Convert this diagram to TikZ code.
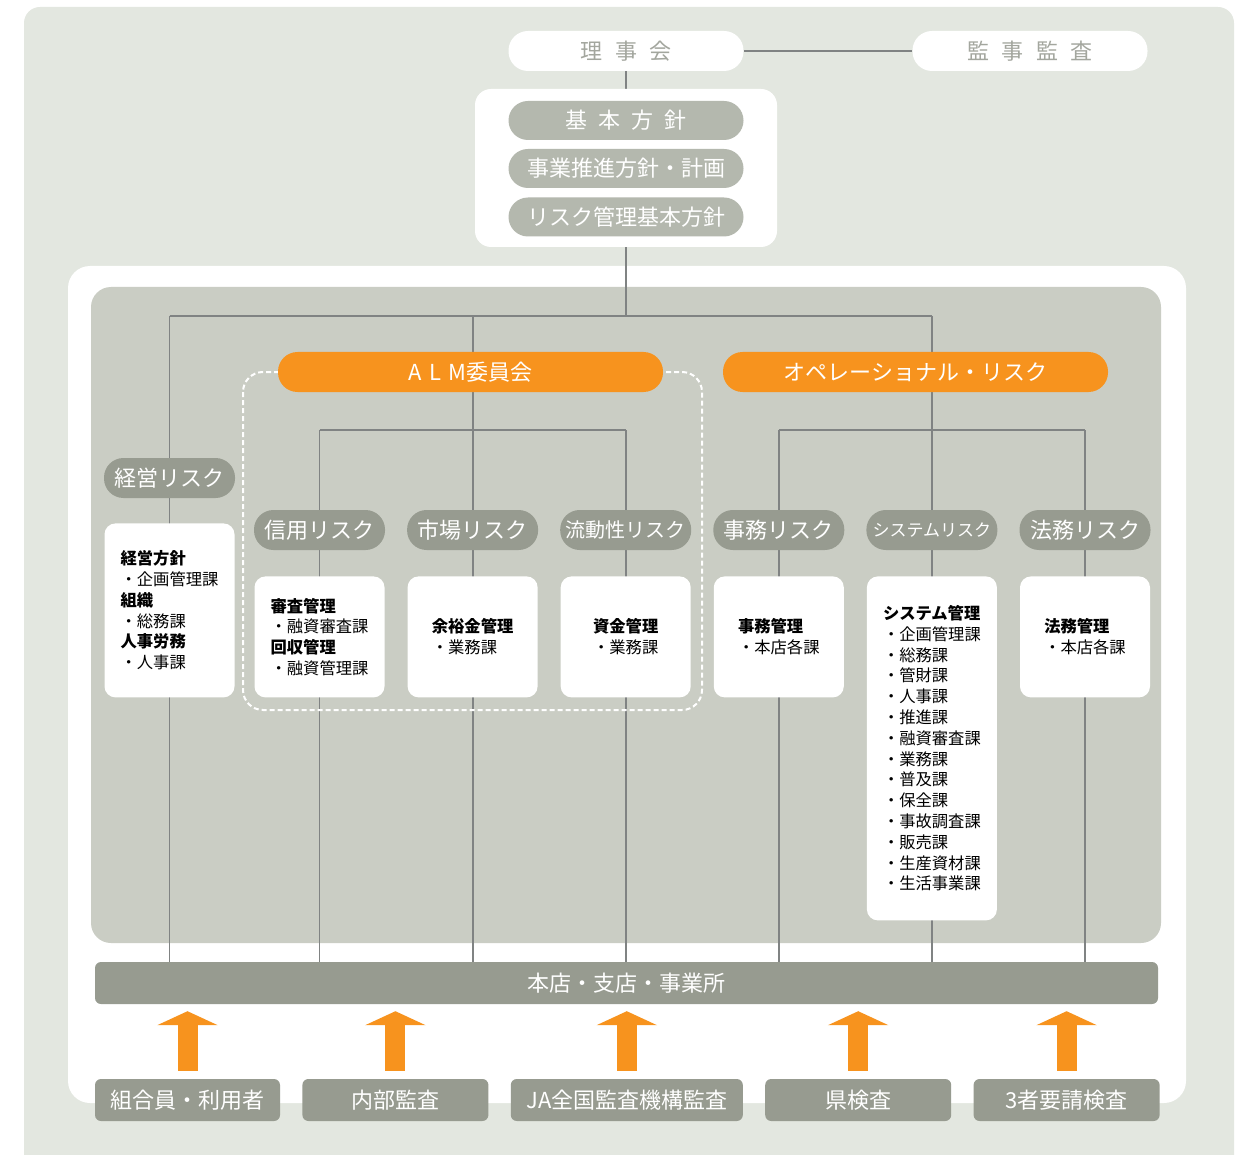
\documentclass[tikz,border=0pt]{standalone}
\usepackage{fontspec}
\setmainfont{Noto Sans CJK JP}
\usetikzlibrary{arrows.meta,positioning}

\definecolor{outerbg}{HTML}{E3E7E0}
\definecolor{panelgray}{HTML}{CACDC4}
\definecolor{pillgray}{HTML}{979B90}
\definecolor{policygray}{HTML}{B4B8AE}
\definecolor{titlegray}{HTML}{A3A69E}
\definecolor{linegray}{HTML}{808383}
\definecolor{jaorange}{HTML}{F7931E}

\pgfdeclarelayer{back}
\pgfdeclarelayer{lines}
\pgfsetlayers{back,lines,main}

\tikzset{
  pill/.style={rounded corners=19.5pt, minimum height=40pt, inner xsep=2pt, inner ysep=0pt},
  toppill/.style={pill, fill=white, text=titlegray, minimum width=235pt, font=\fontsize{22}{26}\selectfont},
  policypill/.style={pill, fill=policygray, text=white, minimum width=235pt, minimum height=39pt, font=\fontsize{22}{26}\selectfont},
  riskpill/.style={pill, fill=pillgray, text=white, minimum width=131pt, font=\fontsize{22}{26}\selectfont},
  orangepill/.style={pill, fill=jaorange, text=white, minimum width=385pt, font=\fontsize{22}{26}\selectfont},
  deptbox/.style={fill=white, rounded corners=11pt, minimum width=130pt, minimum height=121pt, align=left, inner sep=0pt, font=\fontsize{16.3}{20.8}\selectfont},
  basebox/.style={fill=pillgray, text=white, rounded corners=6pt, minimum height=42pt, inner sep=0pt, font=\fontsize{22}{26}\selectfont},
  link/.style={draw=linegray, line width=1.8pt},
  uparrow/.style={draw=jaorange, line width=20pt, -{Triangle[width=60pt,length=14pt]}, shorten <=8pt, shorten >=7pt}
}

\begin{document}
\begin{tikzpicture}[x=1pt,y=-1pt]
  \useasboundingbox (0,0) rectangle (1239,1155);

  % board and policies
  \node[toppill]    (board)                          at (626,51)   {理\hspace{.55em}事\hspace{.55em}会};
  \node[toppill]    (audit)                          at (1030,51)  {監\hspace{.55em}事\hspace{.55em}監\hspace{.55em}査};
  \node[fill=white, rounded corners=16pt, minimum width=302pt, minimum height=158pt] (policy) at (626,168) {};
  \node[policypill] (basic)                          at (626,120.5) {基\hspace{.5em}本\hspace{.5em}方\hspace{.5em}針};
  \node[policypill] (plan)                           at (626,168.5) {事業推進方針・計画};
  \node[policypill] (riskpolicy)                     at (626,217)   {リスク管理基本方針};
  \coordinate (hub)    at (626,316);
  \coordinate (almtie) at (626,430);

  % committees
  \node[orangepill] (alm)                            at (470.5,372) {A\hspace{.35em}L\hspace{.35em}M委員会};
  \node[orangepill] (oprisk)                         at (915.5,372) {オペレーショナル・リスク};

  % risk categories
  \node[riskpill]   (mgmt)                           at (169.5,478) {経営リスク};
  \node[riskpill]   (credit)                         at (319.5,530) {信用リスク};
  \node[riskpill]   (market)  [right=21.7pt of credit]                {市場リスク};
  \node[riskpill]   (liquid)  [right=21.7pt of market] {\fontsize{20}{24}\selectfont 流動性リスク};
  \node[riskpill]   (admin)   [right=21.7pt of liquid]                {事務リスク};
  \node[riskpill]   (system)  [right=21.7pt of admin]  {\fontsize{17}{24}\selectfont システムリスク};
  \node[riskpill]   (legal)   [right=21.7pt of system]                {法務リスク};

  % departments
  \node[deptbox, minimum height=174pt] (mgmtbox) [below=25pt of mgmt]
    {\textbf{経営方針}\\・企画管理課\\\textbf{組織}\\・総務課\\\textbf{人事労務}\\・人事課};
  \node[deptbox]    (creditbox) [below=26pt of credit]
    {\textbf{審査管理}\\・融資審査課\\\textbf{回収管理}\\・融資管理課};
  \node[deptbox]    (marketbox) [below=26pt of market] {\textbf{余裕金管理}\\・業務課};
  \node[deptbox]    (liquidbox) [below=26pt of liquid] {\textbf{資金管理}\\・業務課};
  \node[deptbox]    (adminbox)  [below=26pt of admin]  {\textbf{事務管理}\\・本店各課};
  \node[deptbox, minimum height=344pt] (systembox) [below=26pt of system]
    {\textbf{システム管理}\\・企画管理課\\・総務課\\・管財課\\・人事課\\・推進課\\・融資審査課\\・業務課\\・普及課\\・保全課\\・事故調査課\\・販売課\\・生産資材課\\・生活事業課};
  \node[deptbox]    (legalbox)  [below=26pt of legal]  {\textbf{法務管理}\\・本店各課};

  % branches and inspections
  \node[basebox, minimum width=1063pt] (hq)          at (626.5,983) {本店・支店・事業所};
  \node[basebox, minimum width=185pt]  (members)     at (187.5,1100) {組合員・利用者};
  \node[basebox, minimum width=186pt]  (internal)  [right=22pt of members]  {内部監査};
  \node[basebox, minimum width=232pt]  (central)   [right=22pt of internal] {JA全国監査機構監査};
  \node[basebox, minimum width=186pt]  (pref)      [right=22pt of central]  {県検査};
  \node[basebox, minimum width=186pt]  (thirdparty)[right=22pt of pref]     {3者要請検査};

  \begin{pgfonlayer}{back}
    \fill[outerbg, rounded corners=16pt] (24,7) rectangle (1234,1185);
    \fill[white, rounded corners=22pt] (68,266) rectangle (1186,1103);
    \fill[panelgray, rounded corners=20pt] (91,287) rectangle (1161,943);
  \end{pgfonlayer}

  \begin{pgfonlayer}{lines}
    \draw[link] (board) -- (audit);
    \draw[link] (board) -- (policy);
    \draw[link] (policy) -- (hub);
    \draw[link] (mgmt |- hub) -- (system |- hub);
    \draw[link] (credit |- almtie) -- (liquid |- almtie);
    \draw[link] (admin |- almtie) -- (legal |- almtie);
    \foreach \col in {mgmt,market,system}
      \draw[link] (\col |- hub) -- (\col |- hq.north);
    \foreach \col in {credit,liquid,admin,legal}
      \draw[link] (\col |- almtie) -- (\col |- hq.north);
    % ALM group outline
    \draw[white, line width=2pt, dash pattern=on 5pt off 3pt, rounded corners=20pt]
      (243,372) rectangle (702,710);
  \end{pgfonlayer}

  \foreach \src in {members,internal,central,pref,thirdparty}
    \draw[uparrow] (\src.north) -- (\src.north |- hq.south);
\end{tikzpicture}
\end{document}
